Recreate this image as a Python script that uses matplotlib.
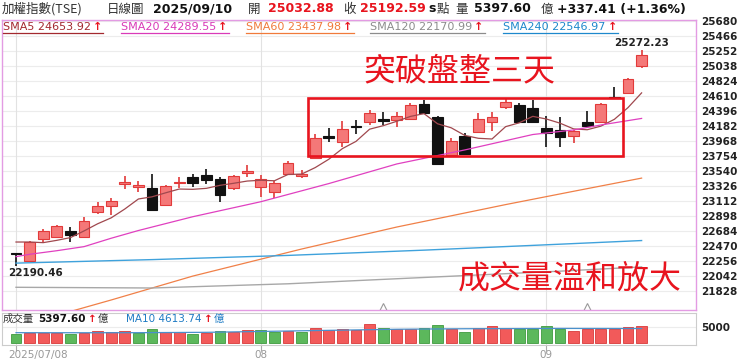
import matplotlib
matplotlib.use('Agg')
import matplotlib.pyplot as plt
import numpy as np
from matplotlib.patches import Rectangle
from matplotlib.lines import Line2D

CJK = 'Noto Sans CJK TC'
plt.rcParams['font.family'] = ['DejaVu Sans', CJK]

# 加權指數 日線 2025/07/08 ~ 2025/09/10
opens = [22355, 22260, 22565, 22602, 22679, 22602, 22959, 23040, 23350, 23316,
         23301, 23054, 23364, 23450, 23482, 23421, 23293, 23507, 23316, 23244,
         23497, 23472, 23729, 24029, 23958, 24182, 24234, 24282, 24267, 24277,
         24496, 24314, 23768, 24039, 24100, 24243, 24457, 24481, 24443, 24149,
         24125, 24039, 24243, 24243, 24600, 24648, 25032.88]
highs = [22362, 22540, 22707, 22765, 22736, 22879, 23097, 23158, 23468, 23401,
         23492, 23340, 23458, 23492, 23564, 23450, 23480, 23625, 23482, 23397,
         23682, 23554, 24063, 24149, 24253, 24267, 24410, 24386, 24386, 24506,
         24553, 24324, 24015, 24078, 24371, 24386, 24563, 24506, 24553, 24324,
         24306, 24120, 24396, 24505, 24742, 24871, 25272.23]
lows = [22190.46, 22245, 22516, 22593, 22526, 22583, 22926, 22912, 23287, 23240,
        22970, 23040, 23293, 23307, 23350, 23093, 23268, 23450, 23173, 23158,
        23482, 23435, 23721, 23958, 23886, 24063, 24196, 24196, 24172, 24267,
        24353, 23625, 23768, 23782, 24086, 24115, 24420, 24230, 24233, 23886,
        23878, 23935, 24182, 24235, 24570, 24640, 25010]
closes = [22350, 22531, 22688, 22750, 22626, 22826, 23040, 23111, 23383, 23340,
          22983, 23325, 23378, 23364, 23411, 23197, 23468, 23540, 23421, 23373,
          23649, 23492, 24006, 24015, 24135, 24163, 24363, 24253, 24329, 24481,
          24363, 23639, 23968, 23782, 24277, 24314, 24520, 24243, 24233, 24086,
          24020, 24110, 24182, 24496, 24577, 24855.18, 25192.59]
prev_close = 22400  # 07/07 收盤 (估)

# 成交量 (億)
volumes = [2802, 3321, 3321, 3321, 2802, 3217, 3840, 3425, 3840, 3321,
           4463, 3529, 3529, 3009, 3321, 3840, 3529, 4151, 4047, 3529,
           3840, 3529, 4774, 4255, 4566, 4255, 5915, 4877, 4359, 4359,
           4670, 5708, 4359, 3632, 4670, 5397, 4774, 4566, 4566, 5397,
           4359, 3943, 4359, 4359, 4359, 5189, 5397.60]
vol_ma10_idx = [0, 5, 9, 14, 18, 23, 28, 33, 40, 46]
vol_ma10 = [3320, 3300, 3321, 3430, 3700, 4050, 4390, 4550, 4650, 4613.74]

sma5 = [22526, 22526, 22517, 22550, 22589, 22684, 22786, 22871, 22997, 23140,
        23171, 23228, 23282, 23278, 23292, 23335, 23364, 23396, 23407, 23400,
        23490, 23495, 23588, 23707, 23859, 23962, 24136, 24186, 24249, 24318,
        24358, 24213, 24156, 24047, 24006, 23996, 24172, 24227, 24319, 24281,
        24222, 24140, 24128, 24179, 24277, 24444, 24653.92]
sma20_idx = [0, 1, 3, 5, 6, 7, 9, 13, 18, 23, 28, 33, 38, 41, 43, 46]
sma20 = [22317, 22351, 22402, 22460, 22520, 22580, 22690, 22887, 23101, 23360,
         23640, 23840, 24060, 24125, 24196, 24289.55]
sma60_idx = [3, 7, 13, 21, 28, 36, 41, 46]
sma60 = [21480, 21699, 22040, 22426, 22740, 23060, 23250, 23437.98]
sma120_idx = [0, 10, 20, 30, 40, 46]
sma120 = [21880, 21870, 21930, 22020, 22110, 22170.99]
sma240_idx = [0, 10, 20, 30, 40, 46]
sma240 = [22225, 22275, 22335, 22410, 22495, 22546.97]

price_ticks = [25680, 25466, 25252, 25038, 24824, 24610, 24396, 24182, 23968,
               23754, 23540, 23326, 23112, 22898, 22684, 22470, 22256, 22042, 21828]
date_idx = [0, 18, 39]
date_labels = ['2025/07/08', '08', '09']
event_idx = [27, 42]

# 盤整區間
box_start, box_end = 21.5, 44.6
box_low, box_high = 23754, 24581

W, H = 740, 364
RED = '#E8141E'
fig = plt.figure(figsize=(W / 100, H / 100), dpi=100)

def fx(x):
    return x / W

def fy(y):
    return 1 - y / H

ax = fig.add_axes([fx(2), fy(310), (696 - 2) / W, (310 - 20) / H])
axv = fig.add_axes([fx(2), fy(345), (696 - 2) / W, (345 - 313) / H])

x = np.arange(len(closes))
o = np.array(opens); c = np.array(closes)
up = c >= o
xlim = (-14 / 13.6, 680 / 13.6)

# ---- 價格
ax.set_xlim(*xlim)
ax.set_ylim(21556, 25694)
for t in price_ticks:
    ax.axhline(t, color='#ECECEC', lw=0.8, zorder=0)
for d in date_idx:
    ax.axvline(d, color='#E2E2E2', lw=0.8, zorder=0)

wick_col = np.where(up, '#E23A3A', '#111111')
ax.vlines(x, lows, highs, colors=wick_col, lw=1.2, zorder=2)
body_h = np.maximum(np.abs(c - o), 22)
ax.bar(x, body_h, bottom=np.minimum(o, c), width=0.8,
       color=np.where(up, '#F47878', '#111111'),
       edgecolor=np.where(up, '#E23A3A', '#111111'), linewidth=0.8, zorder=3)

ax.plot(x, sma5, color='#A0484E', lw=0.9, zorder=4)
ax.plot(sma20_idx, sma20, color='#E040C0', lw=0.9, zorder=4)
ax.plot(sma60_idx, sma60, color='#F08048', lw=0.9, zorder=4)
ax.plot(sma120_idx, sma120, color='#A8A8A8', lw=1.0, zorder=4)
ax.plot(sma240_idx, sma240, color='#3FA2DC', lw=1.0, zorder=4)

ax.add_patch(Rectangle((box_start, box_low), box_end - box_start, box_high - box_low,
                       fill=False, edgecolor=RED, lw=1.9, zorder=5))

ax.plot(event_idx, [21600] * len(event_idx), linestyle='none', marker='^',
        markersize=6, markerfacecolor='none', markeredgecolor='#999999', mew=0.8)

imin = int(np.argmin(lows)); imax = int(np.argmax(highs))
ax.annotate(f'{lows[imin]:.2f}', (imin, lows[imin]), xytext=(14, -5.5),
            textcoords='offset points', ha='center', va='center',
            fontsize=7.5, fontweight='bold', color='#222')
ax.annotate(f'{highs[imax]:.2f}', (imax, highs[imax]), xytext=(0, 4.5),
            textcoords='offset points', ha='center', va='center',
            fontsize=7.5, fontweight='bold', color='#222')

ax.yaxis.tick_right()
ax.set_yticks(price_ticks)
ax.set_yticklabels([str(t) for t in price_ticks], fontweight='bold', color='#222')
ax.tick_params(axis='y', length=0, pad=4, labelsize=7.5)
ax.set_xticks([])
for s in ax.spines.values():
    s.set_color('#E39BE3'); s.set_linewidth(1.0)

fig.text(fx(459), fy(71), '突破盤整三天', ha='center', va='center', fontsize=23,
         color=RED, family=CJK, fontweight='light')
fig.text(fx(570), fy(279), '成交量溫和放大', ha='center', va='center', fontsize=23,
         color=RED, family=CJK, fontweight='light')

# ---- 成交量
axv.set_xlim(*xlim)
axv.set_ylim(-530, 9470)
vol_up = np.diff(np.array(closes), prepend=prev_close) >= 0
axv.bar(x, volumes, width=0.78, color=np.where(vol_up, '#F25A5A', '#5CB85C'),
        edgecolor=np.where(vol_up, '#D83A3A', '#3F9A3F'), linewidth=0.6, zorder=3)
axv.plot(vol_ma10_idx, vol_ma10, color='#4A90CC', lw=0.9, zorder=4)
axv.axhline(5000, color='#ECECEC', lw=0.8, zorder=0)
for d in date_idx:
    axv.axvline(d, color='#E2E2E2', lw=0.8, zorder=0)
axv.yaxis.tick_right()
axv.set_yticks([5000])
axv.set_yticklabels(['5000'], fontweight='bold', color='#222')
axv.tick_params(axis='y', length=0, pad=4, labelsize=7.5)
axv.set_xticks(date_idx)
axv.set_xticklabels([])
axv.tick_params(axis='x', length=4, color='#AAAAAA', direction='out')
for s in axv.spines.values():
    s.set_color('#CCCCCC'); s.set_linewidth(0.8)

# 日期
fig.text(fx(8), fy(355), date_labels[0], ha='left', va='center', fontsize=7.5, color='#999')
for d, lab in zip(date_idx[1:], date_labels[1:]):
    fig.text(fx(16 + 13.6 * d), fy(355), lab, ha='center', va='center',
             fontsize=7.5, color='#999')

# ---- 標頭
def ftext(xp, yp, s, **kw):
    return fig.text(fx(xp), fy(yp), s, ha='left', va='center', **kw)

num = dict(fontsize=9, fontweight='bold')
cjk = dict(fontsize=9, color='#333', family=[CJK])
ftext(2, 9, '加權指數(TSE)', **cjk)
ftext(107, 9, '日線圖', **cjk)
ftext(153, 9, '2025/09/10', color='#111', **num)
ftext(248, 9, '開', **cjk)
ftext(268, 9, '25032.88', color=RED, **num)
ftext(343, 9, '收', **cjk)
ftext(360, 9, '25192.59', color=RED, **num)
ftext(428, 9, 's', color='#111', **num)
ftext(437, 9, '點', **cjk)
ftext(455, 9, '量', **cjk)
ftext(474, 9, '5397.60', color='#111', **num)
ftext(541, 9, '億', **cjk)
ftext(557, 9, '+337.41 (+1.36%)', color='#111', **num)

fig.canvas.draw()
r = fig.canvas.get_renderer()

legend = [(3, 'SMA5 24653.92', '#A3282F'),
          (121, 'SMA20 24289.55', '#D93AB8'),
          (246, 'SMA60 23437.98', '#F07A3A'),
          (370, 'SMA120 22170.99', '#8C8C8C'),
          (503, 'SMA240 22546.97', '#1E88CC')]
for xp, s, col in legend:
    t = ftext(xp, 27, s, fontsize=8, color=col)
    bb = t.get_window_extent(r)
    a = fig.text((bb.x1 + 2) / W, fy(27), '↑', ha='left', va='center',
                 fontsize=8, fontweight='bold', color=RED)
    ab = a.get_window_extent(r)
    fig.add_artist(Line2D([fx(xp), (ab.x1 + 1) / W], [fy(32.5)] * 2,
                          color=col, lw=0.9))

# 成交量 標頭
ftext(3, 319, '成交量', fontsize=7.5, color='#333', family=[CJK])
t = ftext(38, 319, '5397.60', fontsize=7.5, fontweight='bold', color='#111')
bb = t.get_window_extent(r)
t = fig.text((bb.x1 + 2) / W, fy(319), '↑', ha='left', va='center', fontsize=7.5,
             fontweight='bold', color=RED)
bb = t.get_window_extent(r)
fig.text((bb.x1 + 1) / W, fy(319), '億', ha='left', va='center', fontsize=7.5,
         color='#333', family=[CJK])
t = ftext(126, 319, 'MA10 4613.74', fontsize=7.5, color='#1E7BC4')
bb = t.get_window_extent(r)
t = fig.text((bb.x1 + 2) / W, fy(319), '↑', ha='left', va='center', fontsize=7.5,
             fontweight='bold', color=RED)
bb = t.get_window_extent(r)
fig.text((bb.x1 + 1) / W, fy(319), '億', ha='left', va='center', fontsize=7.5,
         color='#1E7BC4', family=[CJK])

fig.savefig('out.png', dpi=100)
